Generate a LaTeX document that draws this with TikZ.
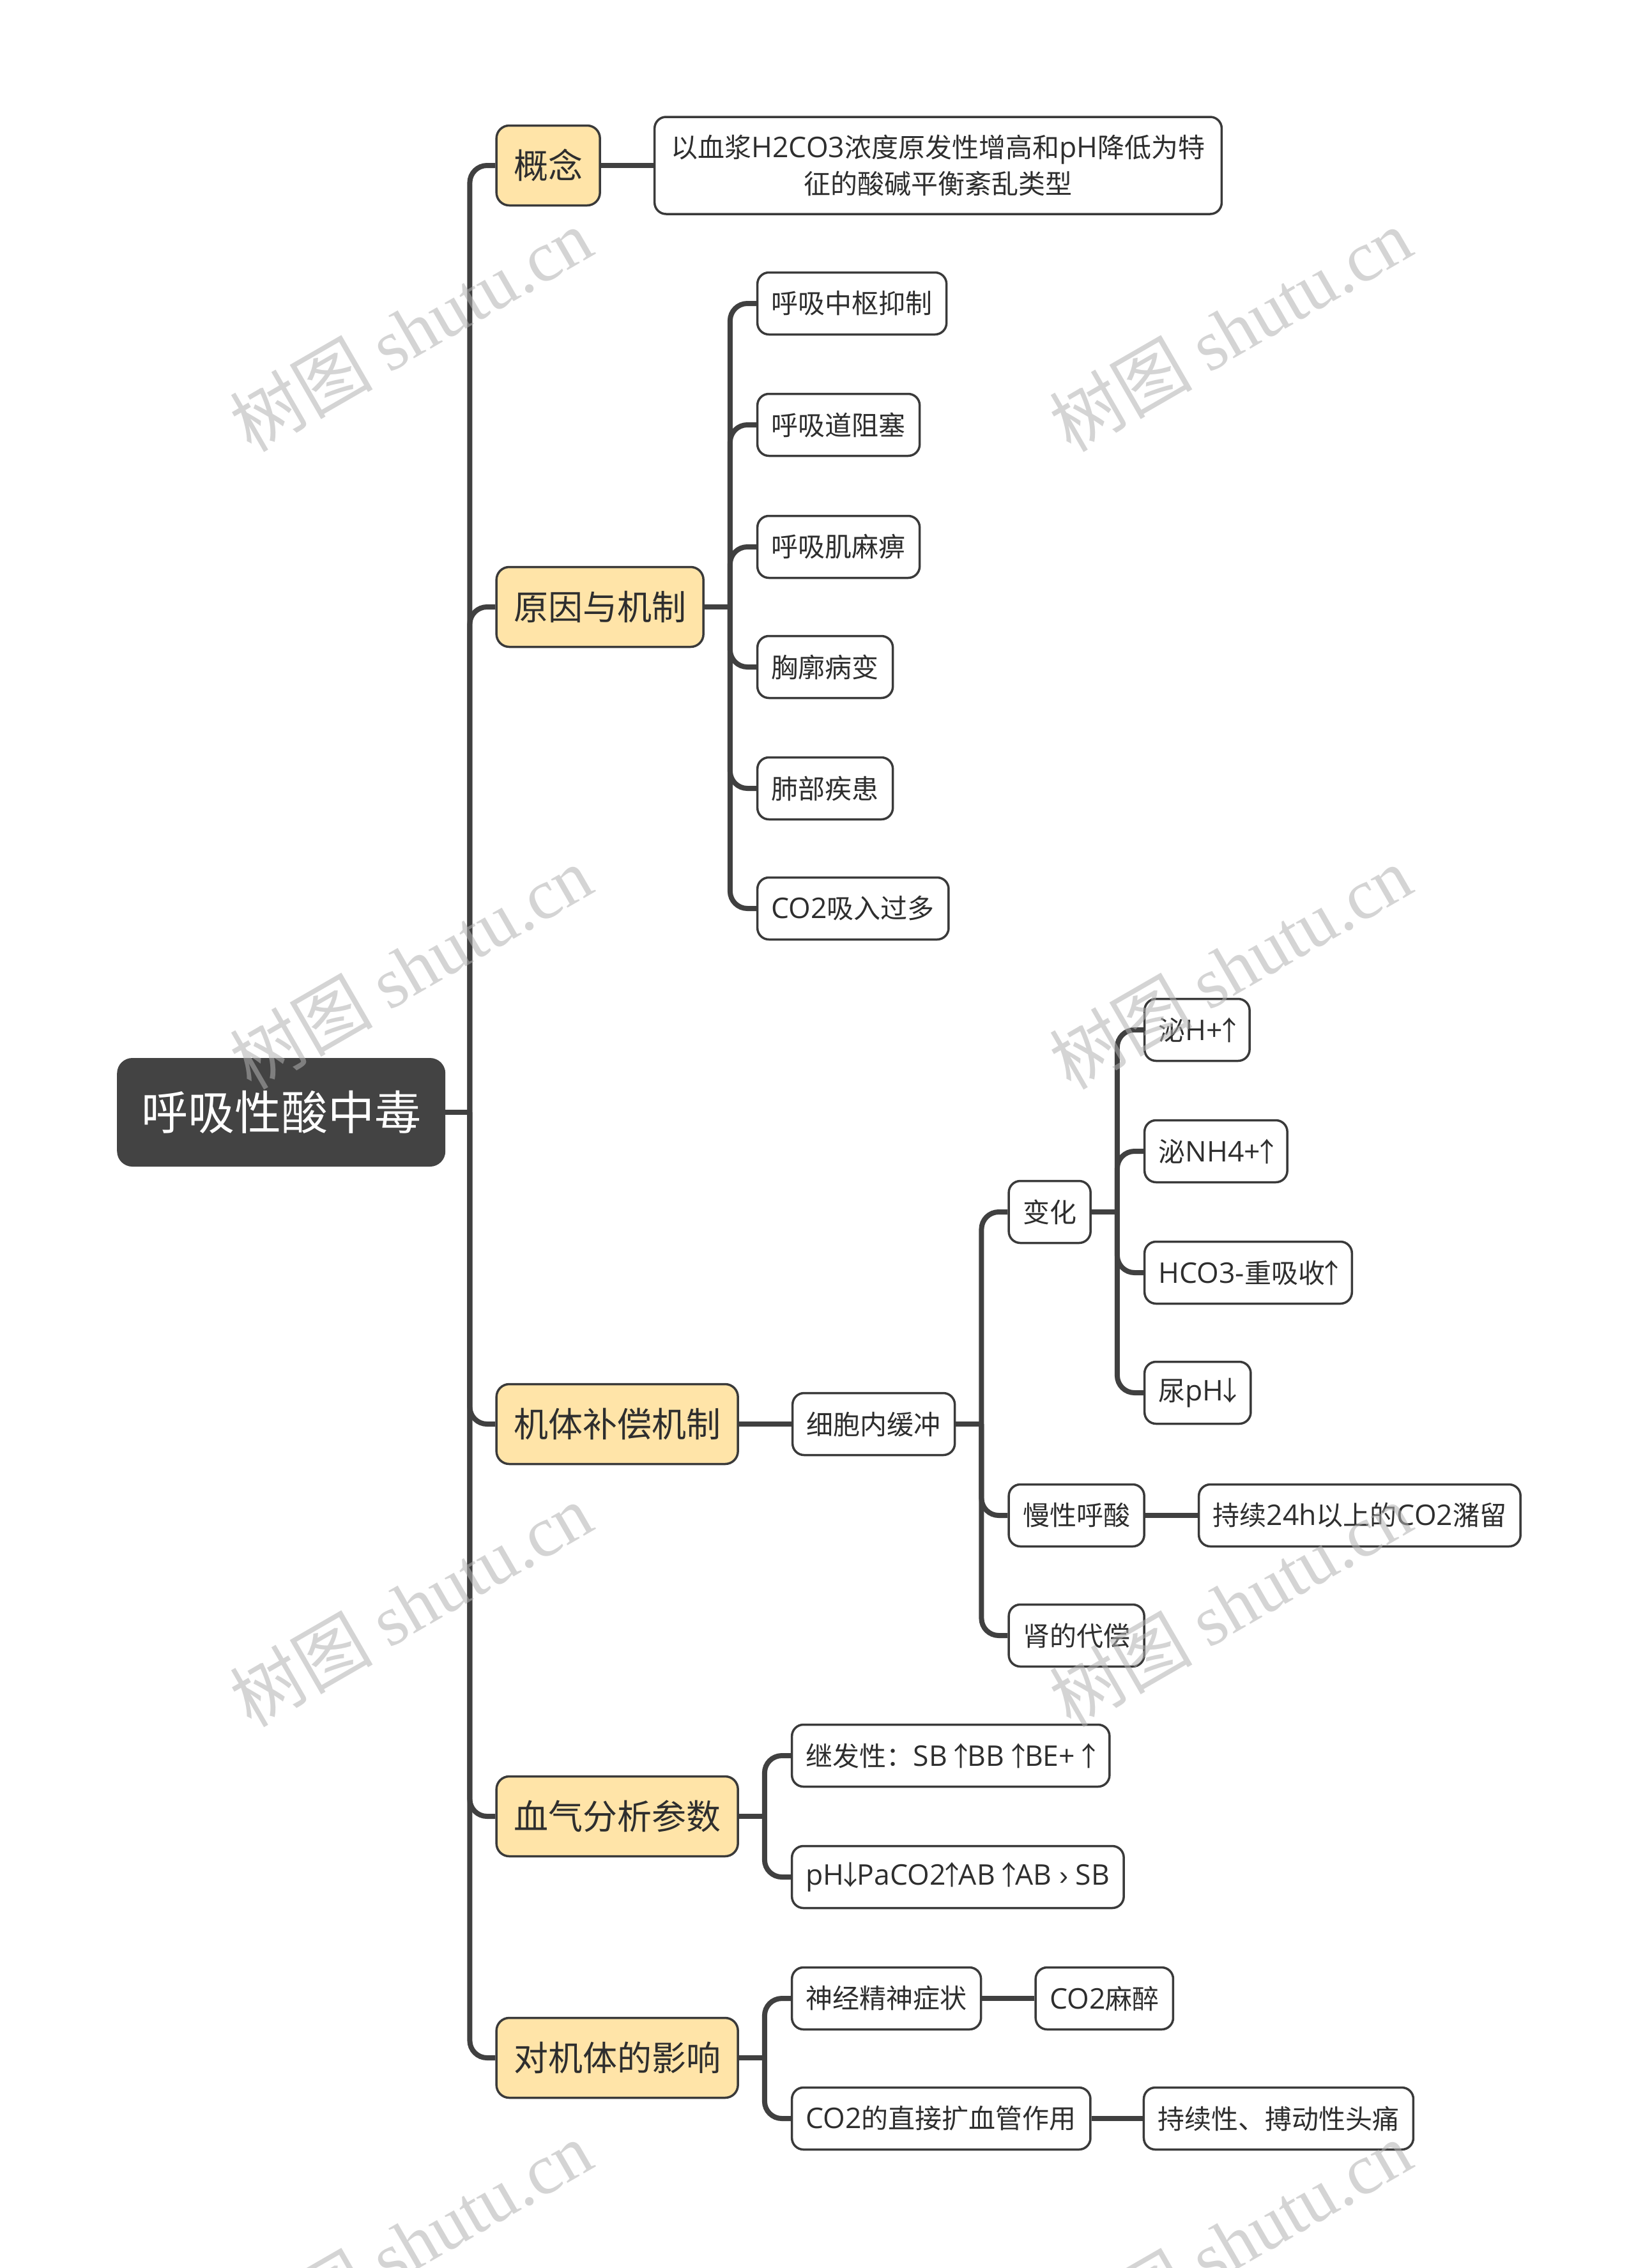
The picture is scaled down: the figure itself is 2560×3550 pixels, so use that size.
\documentclass[tikz,border=0pt]{standalone}
\usepackage{fontspec}
\setmainfont{Noto Sans CJK SC}
\newfontfamily\wmlat{Liberation Serif}
\newfontfamily\wmcjk{Noto Sans CJK SC}
\newfontfamily\lsf[Scale=1.06]{Open Sans}
\newfontfamily\arf{Liberation Sans}
\newcommand\ls[1]{{\lsf #1}}
\newcommand\arUp{\makebox[0.48em][c]{↑}}
\newcommand\arDn{\makebox[0.48em][c]{↓}}
\definecolor{lineC}{HTML}{404040}
\definecolor{borderC}{HTML}{3A3A3A}
\definecolor{textC}{HTML}{2E2E2E}
\definecolor{yellowC}{HTML}{FFE4A8}
\definecolor{rootC}{HTML}{434343}
\begin{document}
\begin{tikzpicture}[x=1pt,y=-1pt,
  conn/.style={draw=lineC, line width=8pt, rounded corners=27pt},
  sub/.style={draw=borderC, line width=3.5pt, fill=white, text=textC, rounded corners=18pt,
    minimum height=97pt, inner xsep=22pt, inner ysep=0pt, anchor=west,
    font=\fontsize{42}{57}\selectfont},
  lvl/.style={sub, fill=yellowC, rounded corners=20pt, minimum height=125pt, inner xsep=27pt,
    font=\fontsize{54}{62}\selectfont},
  rootn/.style={fill=rootC, text=white, rounded corners=24pt, minimum height=170pt,
    inner xsep=38pt, inner ysep=0pt, anchor=west, font=\fontsize{73}{80}\selectfont},
  wm/.style={text=black!30, opacity=0.55, rotate=30, font=\fontsize{112}{112}\selectfont}
]
\useasboundingbox (0,0) rectangle (2560,3550);
\fill[white] (0,0) rectangle (2560,3550);

% root
\node[rootn] (root) at (183,1741) {呼吸性酸中毒};
\path (root.east) ++(38,0) coordinate (j0);
\path (j0) ++(40,0) coordinate (k0);

% level 1
\node[lvl] (n1) at (k0 |- 0,259) {概念};
\node[lvl] (n2) at (k0 |- 0,950) {原因与机制};
\node[lvl] (n3) at (k0 |- 0,2229) {机体补偿机制};
\node[lvl] (n4) at (k0 |- 0,2843) {血气分析参数};
\node[lvl] (n5) at (k0 |- 0,3221) {对机体的影响};

% concept
\path (n1.east) ++(82,0) coordinate (k1);
\node[sub, align=center, minimum height=152pt, inner xsep=26pt] (d1) at (k1) {以血浆\ls{H2CO3}浓度原发性增高和\ls{pH}降低为特\\征的酸碱平衡紊乱类型};

% causes
\path (n2.east) ++(40,0) coordinate (j2);
\path (j2) ++(41,0) coordinate (k2);
\node[sub] (c21) at (k2 |- 0,475) {呼吸中枢抑制};
\node[sub] (c22) at (k2 |- 0,665) {呼吸道阻塞};
\node[sub] (c23) at (k2 |- 0,856) {呼吸肌麻痹};
\node[sub] (c24) at (k2 |- 0,1044) {胸廓病变};
\node[sub] (c25) at (k2 |- 0,1234) {肺部疾患};
\node[sub] (c26) at (k2 |- 0,1422) {\ls{CO2}吸入过多};

% compensation
\path (n3.east) ++(82,0) coordinate (k3);
\node[sub] (c31) at (k3) {细胞内缓冲};
\path (c31.east) ++(40,0) coordinate (j31);
\path (j31) ++(41,0) coordinate (k31);
\node[sub] (c311) at (k31 |- 0,1897) {变化};
\node[sub] (c312) at (k31 |- 0,2372) {慢性呼酸};
\node[sub] (c313) at (k31 |- 0,2560) {肾的代偿};
\path (c311.east) ++(40,0) coordinate (j311);
\path (j311) ++(41,0) coordinate (k311);
\node[sub] (e1) at (k311 |- 0,1612) {泌\ls{H+}\arUp};
\node[sub] (e2) at (k311 |- 0,1802) {泌\ls{NH4+}\arUp};
\node[sub] (e3) at (k311 |- 0,1992) {\ls{HCO3-}重吸收\arUp};
\node[sub] (e4) at (k311 |- 0,2180) {尿\ls{pH}\arDn};
\path (c312.east) ++(82,0) coordinate (k312);
\node[sub] (f1) at (k312) {持续\ls{24h}以上的\ls{CO2}潴留};

% blood gas
\path (n4.east) ++(40,0) coordinate (j4);
\path (j4) ++(41,0) coordinate (k4);
\node[sub] (c41) at (k4 |- 0,2748) {继发性：\ls{SB }\arUp\ls{BB }\arUp\ls{BE+ }\arUp};
\node[sub] (c42) at (k4 |- 0,2938) {\ls{pH}\arDn\ls{PaCO2}\arUp\ls{AB }\arUp\ls{AB {\arf ›} SB}};

% effects
\path (n5.east) ++(40,0) coordinate (j5);
\path (j5) ++(41,0) coordinate (k5);
\node[sub] (c51) at (k5 |- 0,3128) {神经精神症状};
\node[sub] (c52) at (k5 |- 0,3316) {\ls{CO2}的直接扩血管作用};
\path (c51.east) ++(82,0) coordinate (k51);
\node[sub] (g1) at (k51) {\ls{CO2}麻醉};
\path (c52.east) ++(80,0) coordinate (k52);
\node[sub] (g2) at (k52) {持续性、搏动性头痛};

% connectors
\draw[conn] (root.east) -- (j0);
\foreach \c in {n1,n2,n3,n4,n5} { \draw[conn] (j0) |- (\c.west); }
\draw[conn] (n1.east) -- (d1.west);
\draw[conn] (n2.east) -- (j2);
\foreach \c in {c21,c22,c23,c24,c25,c26} { \draw[conn] (j2) |- (\c.west); }
\draw[conn] (n3.east) -- (c31.west);
\draw[conn] (c31.east) -- (j31);
\foreach \c in {c311,c312,c313} { \draw[conn] (j31) |- (\c.west); }
\draw[conn] (c311.east) -- (j311);
\foreach \c in {e1,e2,e3,e4} { \draw[conn] (j311) |- (\c.west); }
\draw[conn] (c312.east) -- (f1.west);
\draw[conn] (n4.east) -- (j4);
\foreach \c in {c41,c42} { \draw[conn] (j4) |- (\c.west); }
\draw[conn] (n5.east) -- (j5);
\foreach \c in {c51,c52} { \draw[conn] (j5) |- (\c.west); }
\draw[conn] (c51.east) -- (g1.west);
\draw[conn] (c52.east) -- (g2.west);

% watermarks
\foreach \wy in {516,1514,2512,3510} {
  \node[wm] (wa\wy) at (643,\wy) {{\wmcjk 树图} {\wmlat shutu.cn}};
  \node[wm] (wb\wy) at (1926,\wy) {{\wmcjk 树图} {\wmlat shutu.cn}};
}
\end{tikzpicture}
\end{document}
